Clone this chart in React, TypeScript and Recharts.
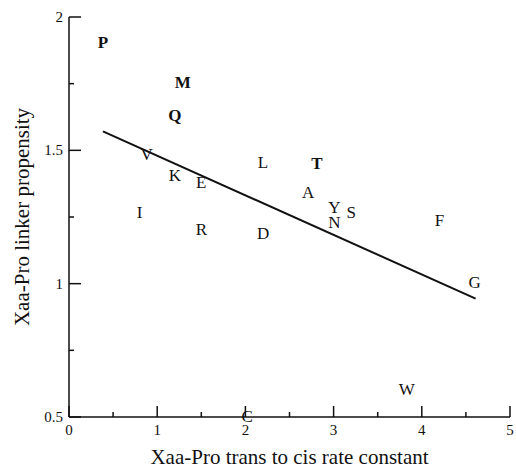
import React from 'react';
import { ScatterChart, Scatter, XAxis, YAxis, Label } from 'recharts';

// amino acid letters and their positions
const residues = ['P', 'M', 'Q', 'V', 'K', 'E', 'I', 'R', 'L', 'T', 'A', 'Y', 'N', 'S', 'F', 'D', 'G', 'W', 'C'];
const rateConstant = [0.385, 1.29, 1.2, 0.88, 1.2, 1.5, 0.8, 1.5, 2.2, 2.81, 2.71, 3.01, 3.01, 3.2, 4.2, 2.2, 4.6, 3.83, 2.02];
const linkerPropensity = [1.906, 1.756, 1.632, 1.485, 1.406, 1.38, 1.267, 1.203, 1.455, 1.451, 1.342, 1.286, 1.229, 1.267, 1.237, 1.19, 1.004, 0.605, 0.502];
const boldResidues = ['P', 'M', 'Q', 'T'];

// regression line end points
const fitX = [0.385, 4.61];
const fitY = [1.571, 0.944];

const xTicks = [0, 0.5, 1, 1.5, 2, 2.5, 3, 3.5, 4, 4.5, 5];
const yTicks = [0.5, 0.75, 1, 1.25, 1.5, 1.75, 2];

const FONT = '"Liberation Serif", "Times New Roman", serif';
const INK = '#111';

const points = residues.map((r, i) => ({ x: rateConstant[i], y: linkerPropensity[i], name: r }));
const fitLine = fitX.map((x, i) => ({ x, y: fitY[i] }));

const isMajorX = (v: number) => Number.isInteger(v);
const isMajorY = (v: number) => Math.abs(v * 2 - Math.round(v * 2)) < 1e-6;

// ticks point into the plot, major ones longer
const BottomTick = (props: any) => {
    const { x, y, payload } = props;
    const major = isMajorX(payload.value);
    const len = major ? 11 : 5;
    return (
        <g>
            <path d={`M${x},${y}L${x},${y - len}`} stroke={INK} strokeWidth={1.5} fill="none" />
            {major && (
                <text x={x} y={y + 18} textAnchor="middle" fontSize={15} fontFamily={FONT} fill={INK} stroke="none">
                    {payload.value}
                </text>
            )}
        </g>
    );
};

const TopTick = (props: any) => {
    const { x, y, payload } = props;
    const len = isMajorX(payload.value) ? 11 : 5;
    return <path d={`M${x},${y}L${x},${y + len}`} stroke={INK} strokeWidth={1.5} fill="none" />;
};

const LeftTick = (props: any) => {
    const { x, y, payload } = props;
    const major = isMajorY(payload.value);
    const len = major ? 12 : 5;
    return (
        <g>
            <path d={`M${x},${y}L${x + len},${y}`} stroke={INK} strokeWidth={1.5} fill="none" />
            {major && (
                <text x={x - 6} y={y + 5} textAnchor="end" fontSize={15} fontFamily={FONT} fill={INK} stroke="none">
                    {payload.value}
                </text>
            )}
        </g>
    );
};

const RightTick = (props: any) => {
    const { x, y, payload } = props;
    const len = isMajorY(payload.value) ? 11 : 5;
    return <path d={`M${x},${y}L${x - len},${y}`} stroke={INK} strokeWidth={1.5} fill="none" />;
};

const LetterShape = (props: any) => {
    const { cx, cy, payload } = props;
    const bold = boldResidues.includes(payload.name);
    return (
        <text
            x={cx}
            y={cy}
            dy="0.33em"
            textAnchor="middle"
            fontSize={17}
            fontFamily={FONT}
            fontWeight={bold ? 'bold' : 'normal'}
            fill={INK}
            stroke="none"
        >
            {payload.name}
        </text>
    );
};

export default function App() {
    return (
        <div style={{ position: 'absolute', left: 0, top: 0, width: 516, height: 473, background: '#fff' }}>
            <ScatterChart width={516} height={473} margin={{ top: 17, right: 6, bottom: 0, left: 0 }}>
                <XAxis
                    xAxisId="b"
                    dataKey="x"
                    type="number"
                    domain={[0, 5]}
                    ticks={xTicks}
                    interval={0}
                    height={56}
                    tickSize={0}
                    tickMargin={0}
                    tick={(p: any) => <BottomTick {...p} />}
                    axisLine={{ stroke: INK, strokeWidth: 1.5 }}
                >
                    <Label
                        value="Xaa-Pro trans to cis rate constant"
                        position="insideBottom"
                        offset={9}
                        style={{ fontSize: 21, fontFamily: FONT, fill: INK }}
                    />
                </XAxis>
                <XAxis
                    xAxisId="t"
                    orientation="top"
                    dataKey="x"
                    type="number"
                    domain={[0, 5]}
                    ticks={xTicks}
                    interval={0}
                    height={0}
                    tickSize={0}
                    tickMargin={0}
                    tick={(p: any) => <TopTick {...p} />}
                    axisLine={{ stroke: INK, strokeWidth: 1.5 }}
                />
                <YAxis
                    yAxisId="l"
                    dataKey="y"
                    type="number"
                    domain={[0.5, 2]}
                    ticks={yTicks}
                    interval={0}
                    width={69}
                    tickSize={0}
                    tickMargin={0}
                    tick={(p: any) => <LeftTick {...p} />}
                    axisLine={{ stroke: INK, strokeWidth: 1.5 }}
                >
                    <Label
                        value="Xaa-Pro linker propensity"
                        position="insideLeft"
                        angle={-90}
                        offset={22}
                        style={{ fontSize: 21, fontFamily: FONT, fill: INK, textAnchor: 'middle' }}
                    />
                </YAxis>
                <YAxis
                    yAxisId="r"
                    orientation="right"
                    dataKey="y"
                    type="number"
                    domain={[0.5, 2]}
                    ticks={yTicks}
                    interval={0}
                    width={0}
                    tickSize={0}
                    tickMargin={0}
                    tick={(p: any) => <RightTick {...p} />}
                    axisLine={{ stroke: INK, strokeWidth: 1.5 }}
                />
                <Scatter xAxisId="t" yAxisId="r" data={points} shape={() => <g />} isAnimationActive={false} />
                <Scatter
                    xAxisId="b"
                    yAxisId="l"
                    data={fitLine}
                    line={{ stroke: INK, strokeWidth: 2 }}
                    shape={() => <g />}
                    isAnimationActive={false}
                />
                <Scatter xAxisId="b" yAxisId="l" data={points} shape={(p: any) => <LetterShape {...p} />} isAnimationActive={false} />
            </ScatterChart>
        </div>
    );
}
